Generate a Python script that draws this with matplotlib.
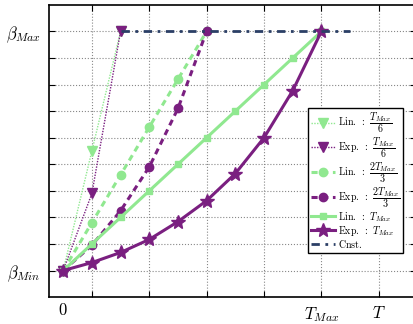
import numpy as np
import matplotlib.pyplot as plt

plt.rcParams['mathtext.fontset'] = 'cm'
plt.rcParams['font.family'] = 'serif'
plt.rcParams['font.serif'] = ['cmr10', 'DejaVu Serif']
plt.rcParams['axes.formatter.use_mathtext'] = True

# time axis in grid units (T_Max = 9, T = 11)
t_short = [0, 1, 2]
lin_short = [0, 4.5, 9]
exp_short = [0, 2.9, 9]

t_mid = [0, 1, 2, 3, 4, 5]
lin_mid = [0, 1.8, 3.6, 5.4, 7.2, 9]
exp_mid = [0, 0.95, 2.25, 3.9, 6.1, 9]

t_full = [0, 1, 2, 3, 4, 5, 6, 7, 8, 9]
lin_full = [0, 1, 2, 3, 4, 5, 6, 7, 8, 9]
exp_full = [0, 0.3, 0.68, 1.17, 1.84, 2.63, 3.65, 5.0, 6.77, 9]

t_cnst = [2, 10]
cnst = [9, 9]

labels = [r'$\mathrm{Lin.\ :\ }\dfrac{T_{Max}}{6}$',
          r'$\mathrm{Exp.\ :\ }\dfrac{T_{Max}}{6}$',
          r'$\mathrm{Lin.\ :\ }\dfrac{2T_{Max}}{3}$',
          r'$\mathrm{Exp.\ :\ }\dfrac{2T_{Max}}{3}$',
          r'$\mathrm{Lin.\ :\ }T_{Max}$',
          r'$\mathrm{Exp.\ :\ }T_{Max}$',
          r'$\mathrm{Cnst.}$']

green = '#90e890'
purple = '#7a1f80'
navy = '#2b3f66'

fig = plt.figure(figsize=(4.14, 3.24), dpi=100)
ax = fig.add_axes([0.118, 0.083, 0.887, 0.902])

ax.plot(t_short, lin_short, color=green, lw=1.0, dashes=(1, 1), marker='v', ms=7, label=labels[0])
ax.plot(t_short, exp_short, color=purple, lw=1.0, dashes=(1, 1), marker='v', ms=7, label=labels[1])
ax.plot(t_mid, lin_mid, color=green, lw=2.2, dashes=(2, 1.5), marker='o', ms=6, label=labels[2])
ax.plot(t_mid, exp_mid, color=purple, lw=2.2, dashes=(2, 1.5), marker='o', ms=6, label=labels[3])
ax.plot(t_full, lin_full, '-', color=green, lw=2.2, marker='s', ms=5, label=labels[4])
ax.plot(t_full, exp_full, '-', color=purple, lw=2.2, marker='*', ms=10, label=labels[5])
ax.plot(t_cnst, cnst, color=navy, lw=2.0, dashes=(3, 2, 1, 2), label=labels[6])

ax.set_xlim(-0.5, 12.3)
ax.set_ylim(-1, 10)
ax.set_xticks([1, 3, 5, 7, 9, 11])
ax.set_xticklabels(['', '', '', '', '$T_{Max}$', '$T$'], fontsize=12)
ax.set_xticks([0], minor=True)
ax.set_xticklabels(['$0$'], minor=True, fontsize=12)
ax.tick_params(axis='x', which='minor', length=0)
ax.set_yticks(range(10))
ax.set_yticklabels([r'$\beta_{Min}$'] + [''] * 8 + [r'$\beta_{Max}$'], fontsize=12)
ax.tick_params(direction='in', top=True, right=True, length=4, width=0.8, pad=6)
ax.grid(True, which='major', linestyle=':', color='#888888', lw=0.8)
for s in ax.spines.values():
    s.set_linewidth(1.2)

leg = ax.legend(loc='lower right', bbox_to_anchor=(0.979, 0.135), fontsize=7.2,
                fancybox=False, edgecolor='black', framealpha=1, handlelength=2.4,
                borderpad=0.3, labelspacing=0.0, handletextpad=0.3)
leg.get_frame().set_linewidth(1.0)

fig.savefig('out.png')
